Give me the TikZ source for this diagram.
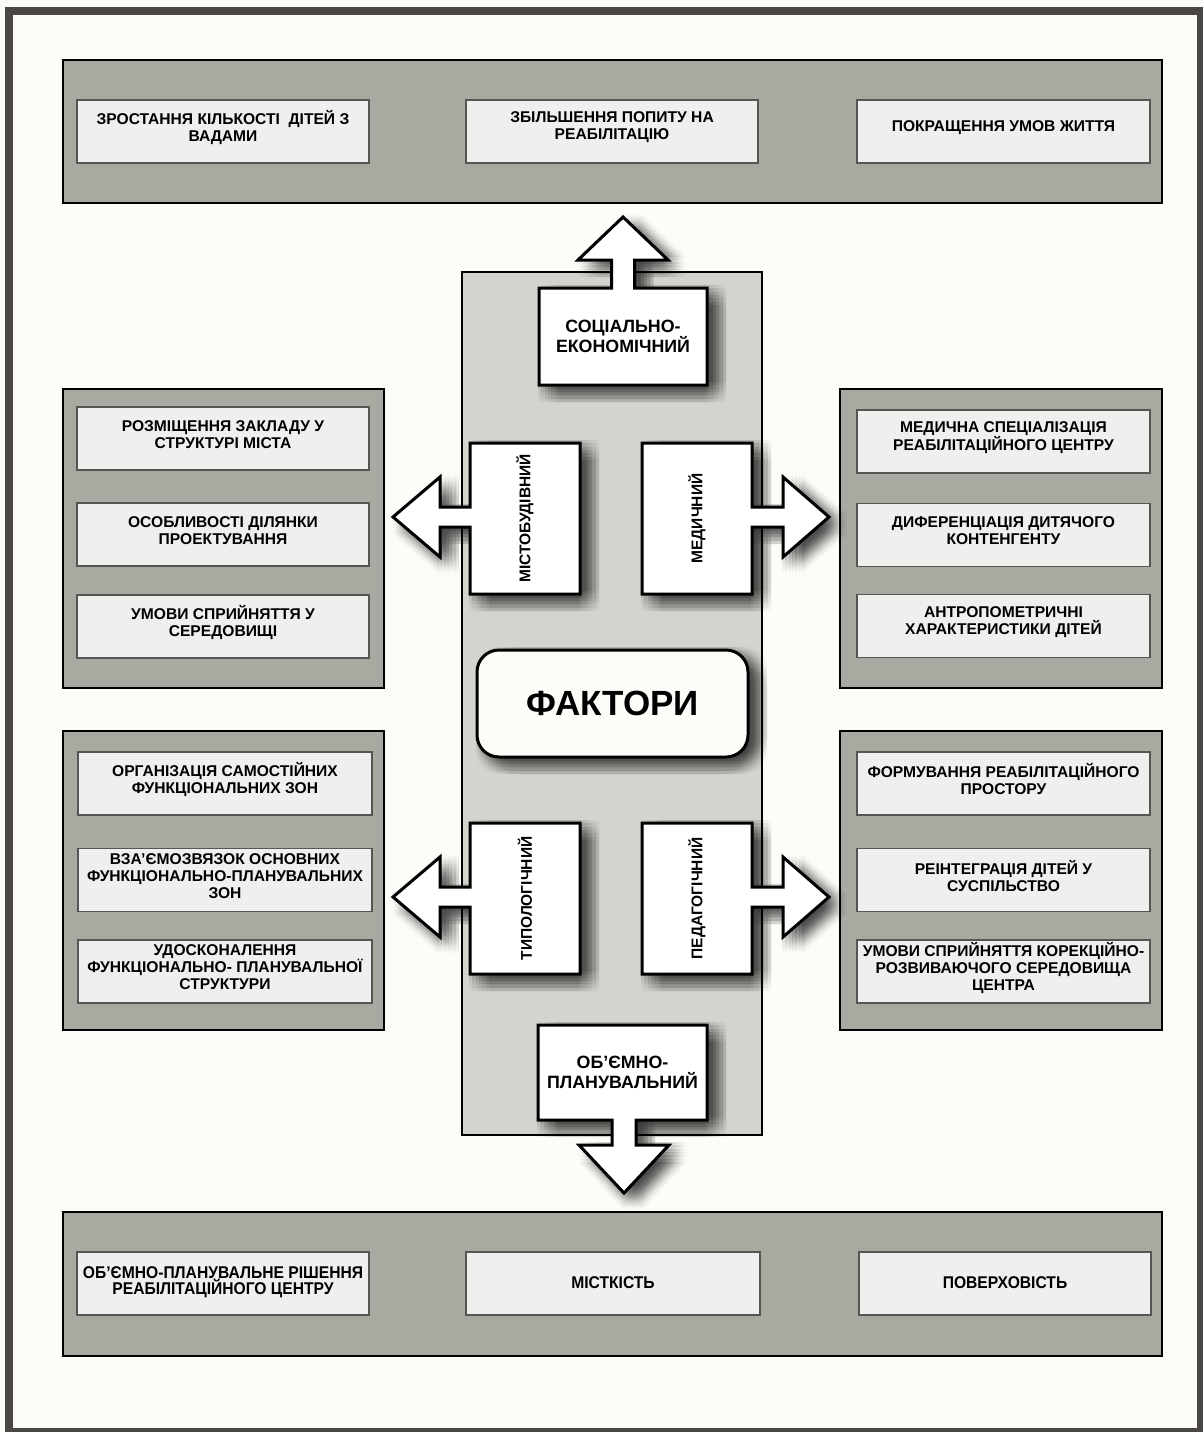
\documentclass[tikz,border=0pt]{standalone}
\usepackage{fontspec}
\setmainfont{Liberation Sans}
\newfontfamily\narrowsans{Liberation Sans}[FakeStretch=0.92]
\usetikzlibrary{calc}

\pgfdeclarelayer{base}
\pgfdeclarelayer{blocks}
\pgfsetlayers{base,blocks,main}

\definecolor{pagebg}{HTML}{FCFCF9}
\definecolor{framec}{HTML}{4A4744}
\definecolor{panelgray}{HTML}{A9A8A1}
\definecolor{itemfill}{HTML}{EFF0EE}
\definecolor{itemedge}{HTML}{555553}
\definecolor{columngray}{HTML}{D4D3CE}

\tikzset{
  panel/.style={draw=black, line width=2.5pt, fill=panelgray},
  column/.style={draw=black, line width=2pt, fill=columngray},
  itembox/.style={draw=itemedge, line width=1.4pt, fill=itemfill,
    minimum height=63pt, inner sep=0pt, outer sep=0pt},
  itemtext/.style={font=\bfseries\fontsize{15.6}{17}\selectfont, align=center, inner sep=0pt},
  lowtext/.style={font=\narrowsans\bfseries\fontsize{17}{16}\selectfont, align=center,
    inner sep=0pt, yshift=-3pt},
  % soft drop shadow: a grid of translucent shifted copies of the outline
  shadowcopy/.style 2 args={preaction={fill=black, fill opacity=0.023, draw=none,
    transform canvas={xshift=#1pt, yshift=#2pt}}},
  shadowrow/.style={shadowcopy={-1}{#1}, shadowcopy={2}{#1}, shadowcopy={6}{#1},
    shadowcopy={9}{#1}, shadowcopy={12}{#1}, shadowcopy={16}{#1}, shadowcopy={19}{#1}},
  softshadow/.style={shadowrow=3, shadowrow=0, shadowrow=-4, shadowrow=-7,
    shadowrow=-10, shadowrow=-14, shadowrow=-17},
  factorshape/.style={draw=black, line width=3pt, fill=white, line join=miter, softshadow},
  factorbox/.style={minimum width=110pt, minimum height=151pt, inner sep=0pt, outer sep=0pt},
  factortext/.style={font=\bfseries\fontsize{17.8}{19.5}\selectfont, align=center,
    inner sep=0pt, outer sep=0pt},
  verttext/.style={font=\bfseries\fontsize{15.5}{18}\selectfont, rotate=90, inner sep=0pt},
}

% one light cell inside a grey panel: [text style]{name}{x}{y}{width}{text}
\newcommand\itemcell[6][itemtext]{%
  \node[itembox, minimum width=#5pt] (#2) at (#3,#4) {};
  \node[#1] (#2-label) at ($(#2.center)+(0,-4)$) {#6};
}
% factor box with a block arrow on its left side
\newcommand\leftblock[1]{%
  \path[factorshape] (#1.north west) -- (#1.north east) -- (#1.south east) -- (#1.south west)
    -- ($(#1.west)+(0,8.5)$) -- ($(#1.west)+(-30,8.5)$) -- ($(#1.west)+(-30,38.5)$)
    -- ($(#1.west)+(-77,-1.5)$) -- ($(#1.west)+(-30,-41.5)$) -- ($(#1.west)+(-30,-11.5)$)
    -- ($(#1.west)+(0,-11.5)$) -- cycle;
}
% factor box with a block arrow on its right side
\newcommand\rightblock[1]{%
  \path[factorshape] (#1.north east) -- (#1.north west) -- (#1.south west) -- (#1.south east)
    -- ($(#1.east)+(0,8.5)$) -- ($(#1.east)+(31,8.5)$) -- ($(#1.east)+(31,38.5)$)
    -- ($(#1.east)+(77,-1.5)$) -- ($(#1.east)+(31,-41.5)$) -- ($(#1.east)+(31,-11.5)$)
    -- ($(#1.east)+(0,-11.5)$) -- cycle;
}

\begin{document}
\begin{tikzpicture}[x=1pt,y=-1pt]
\useasboundingbox (0,0) rectangle (1203,1432);

\begin{pgfonlayer}{base}
  % page and outer frame
  \fill[pagebg] (0,0) rectangle (1203,1432);
  \fill[framec] (5,7) rectangle (1203,1432);
  \fill[pagebg] (13,15) rectangle (1197,1428);
  % grey panels
  \draw[panel] (63,60) rectangle (1162,203);
  \draw[panel] (63,389) rectangle (384,688);
  \draw[panel] (63,731) rectangle (384,1030);
  \draw[panel] (840,389) rectangle (1162,688);
  \draw[panel] (840,731) rectangle (1162,1030);
  \draw[panel] (63,1212) rectangle (1162,1356);
  % central column
  \draw[column] (462,272) rectangle (762,1135);
\end{pgfonlayer}

% top panel
\itemcell{t1}{223}{131.5}{292}{ЗРОСТАННЯ КІЛЬКОСТІ~ ДІТЕЙ З\\ВАДАМИ}
\itemcell{t2}{612}{131.5}{292}{ЗБІЛЬШЕННЯ ПОПИТУ НА\\РЕАБІЛІТАЦІЮ}
\itemcell{t3}{1003.5}{131.5}{293}{ПОКРАЩЕННЯ УМОВ ЖИТТЯ}

% left upper panel
\itemcell{l1}{223}{438.5}{292}{РОЗМІЩЕННЯ ЗАКЛАДУ У\\СТРУКТУРІ МІСТА}
\itemcell{l2}{223}{534.5}{292}{ОСОБЛИВОСТІ ДІЛЯНКИ\\ПРОЕКТУВАННЯ}
\itemcell{l3}{223}{626.5}{292}{УМОВИ СПРИЙНЯТТЯ У\\СЕРЕДОВИЩІ}

% right upper panel
\itemcell{r1}{1003.5}{441.5}{293}{МЕДИЧНА СПЕЦІАЛІЗАЦІЯ\\РЕАБІЛІТАЦІЙНОГО ЦЕНТРУ}
\itemcell{r2}{1003.5}{535}{293}{ДИФЕРЕНЦІАЦІЯ ДИТЯЧОГО\\КОНТЕНГЕНТУ}
\itemcell{r3}{1003.5}{626}{293}{АНТРОПОМЕТРИЧНІ\\ХАРАКТЕРИСТИКИ ДІТЕЙ}

% left lower panel
\itemcell{l4}{225}{783.5}{294}{ОРГАНІЗАЦІЯ САМОСТІЙНИХ\\ФУНКЦІОНАЛЬНИХ ЗОН}
\itemcell{l5}{225}{880}{294}{ВЗА’ЄМОЗВЯЗОК ОСНОВНИХ\\ФУНКЦІОНАЛЬНО-ПЛАНУВАЛЬНИХ\\ЗОН}
\itemcell{l6}{225}{971.5}{294}{УДОСКОНАЛЕННЯ\\ФУНКЦІОНАЛЬНО- ПЛАНУВАЛЬНОЇ\\СТРУКТУРИ}

% right lower panel
\itemcell{r4}{1003.5}{783.5}{293}{ФОРМУВАННЯ РЕАБІЛІТАЦІЙНОГО\\ПРОСТОРУ}
\itemcell{r5}{1003.5}{880}{293}{РЕІНТЕГРАЦІЯ ДІТЕЙ У\\СУСПІЛЬСТВО}
\itemcell{r6}{1003.5}{971.5}{293}{УМОВИ СПРИЙНЯТТЯ КОРЕКЦІЙНО-\\РОЗВИВАЮЧОГО СЕРЕДОВИЩА\\ЦЕНТРА}

% bottom panel
\itemcell[lowtext]{b1}{223}{1283.5}{292}{ОБ’ЄМНО-ПЛАНУВАЛЬНЕ РІШЕННЯ\\РЕАБІЛІТАЦІЙНОГО ЦЕНТРУ}
\itemcell[lowtext]{b2}{613}{1283.5}{294}{МІСТКІСТЬ}
\itemcell[lowtext]{b3}{1005}{1283.5}{292}{ПОВЕРХОВІСТЬ}

% factor boxes
\node[factorbox, factortext, minimum width=168pt, minimum height=97pt] (soc) at (623,336.5)
  {СОЦІАЛЬНО-\\ЕКОНОМІЧНИЙ};
\node[factorbox, factortext, minimum width=169pt, minimum height=95pt] (vol) at (622.5,1072.5)
  {ОБ’ЄМНО-\\ПЛАНУВАЛЬНИЙ};
\node[factorbox, label={[verttext]center:МІСТОБУДІВНИЙ}] (urb) at (525,518.5) {};
\node[factorbox, label={[verttext]center:МЕДИЧНИЙ}] (med) at (697,518.5) {};
\node[factorbox, label={[verttext]center:ТИПОЛОГІЧНИЙ}] (typ) at (525,898.5) {};
\node[factorbox, label={[verttext]center:ПЕДАГОГІЧНИЙ}] (ped) at (697,898.5) {};

% central title
\node[draw=black, line width=3pt, fill=pagebg, rounded corners=22pt, softshadow,
      minimum width=271pt, minimum height=107pt,
      font=\bfseries\fontsize{35}{38}\selectfont] (factors) at (612.5,703.5) {ФАКТОРИ};

\begin{pgfonlayer}{blocks}
  % upward block arrow
  \path[factorshape] (soc.south west) -- (soc.north west) -- ($(soc.north)+(-11.5,0)$)
    -- ($(soc.north)+(-11.5,-28)$) -- ($(soc.north)+(-45,-28)$) -- ($(soc.north)+(0,-71)$)
    -- ($(soc.north)+(45,-28)$) -- ($(soc.north)+(11.5,-28)$) -- ($(soc.north)+(11.5,0)$)
    -- (soc.north east) -- (soc.south east) -- cycle;
  % downward block arrow
  \path[factorshape] (vol.north west) -- (vol.north east) -- (vol.south east)
    -- ($(vol.south)+(13.5,0)$) -- ($(vol.south)+(13.5,25)$) -- ($(vol.south)+(46.5,25)$)
    -- ($(vol.south)+(1.5,73)$) -- ($(vol.south)+(-43.5,25)$) -- ($(vol.south)+(-10.5,25)$)
    -- ($(vol.south)+(-10.5,0)$) -- (vol.south west) -- cycle;
  \leftblock{urb}
  \rightblock{med}
  \leftblock{typ}
  \rightblock{ped}
\end{pgfonlayer}
\end{tikzpicture}
\end{document}
